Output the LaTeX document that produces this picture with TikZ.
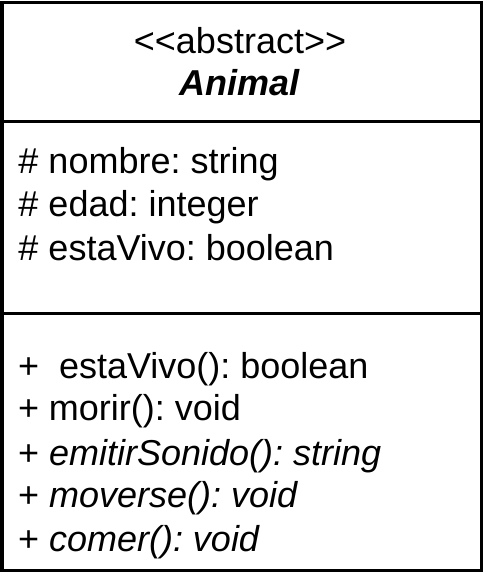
\documentclass[tikz,border=0pt]{standalone}
\usepackage{fontspec}
\setmainfont{Liberation Sans}
\usepackage{tikz}
\frenchspacing

\begin{document}
\begin{tikzpicture}[
    x=1pt, y=-1pt,
    line width=3pt,
    member/.style={anchor=base west, inner sep=0pt, font=\fontsize{36}{43}\selectfont},
    title/.style={anchor=base, inner sep=0pt, font=\fontsize{36}{43}\selectfont}
]
\useasboundingbox (0,0) rectangle (483,582);

% Class box
\draw (2,2) rectangle (481.5,570.5);
\draw (2,121) -- (481.5,121);
\draw (2,313.5) -- (481.5,313.5);

% Name
\node[title] (stereo) at (240,53) {<{}<abstract>{}>};
\node[title] (name) at (240,95) {\textbf{\textit{Animal}}};

% Attributes
\node[member] (a1) at (17,173) {\# nombre: string};
\node[member] (a2) at (17,216) {\# edad: integer};
\node[member] (a3) at (17,260) {\# estaVivo: boolean};

% Methods
\node[member] (m1) at (16.5,378) {+\ \ estaVivo(): boolean};
\node[member] (m2) at (16.5,420) {+ morir(): void};
\node[member] (m3) at (16.5,465) {+ \textit{emitirSonido(): string}};
\node[member] (m4) at (16.5,507) {+ \textit{moverse(): void}};
\node[member] (m5) at (16.5,551) {+ \textit{comer(): void}};

\end{tikzpicture}
\end{document}
